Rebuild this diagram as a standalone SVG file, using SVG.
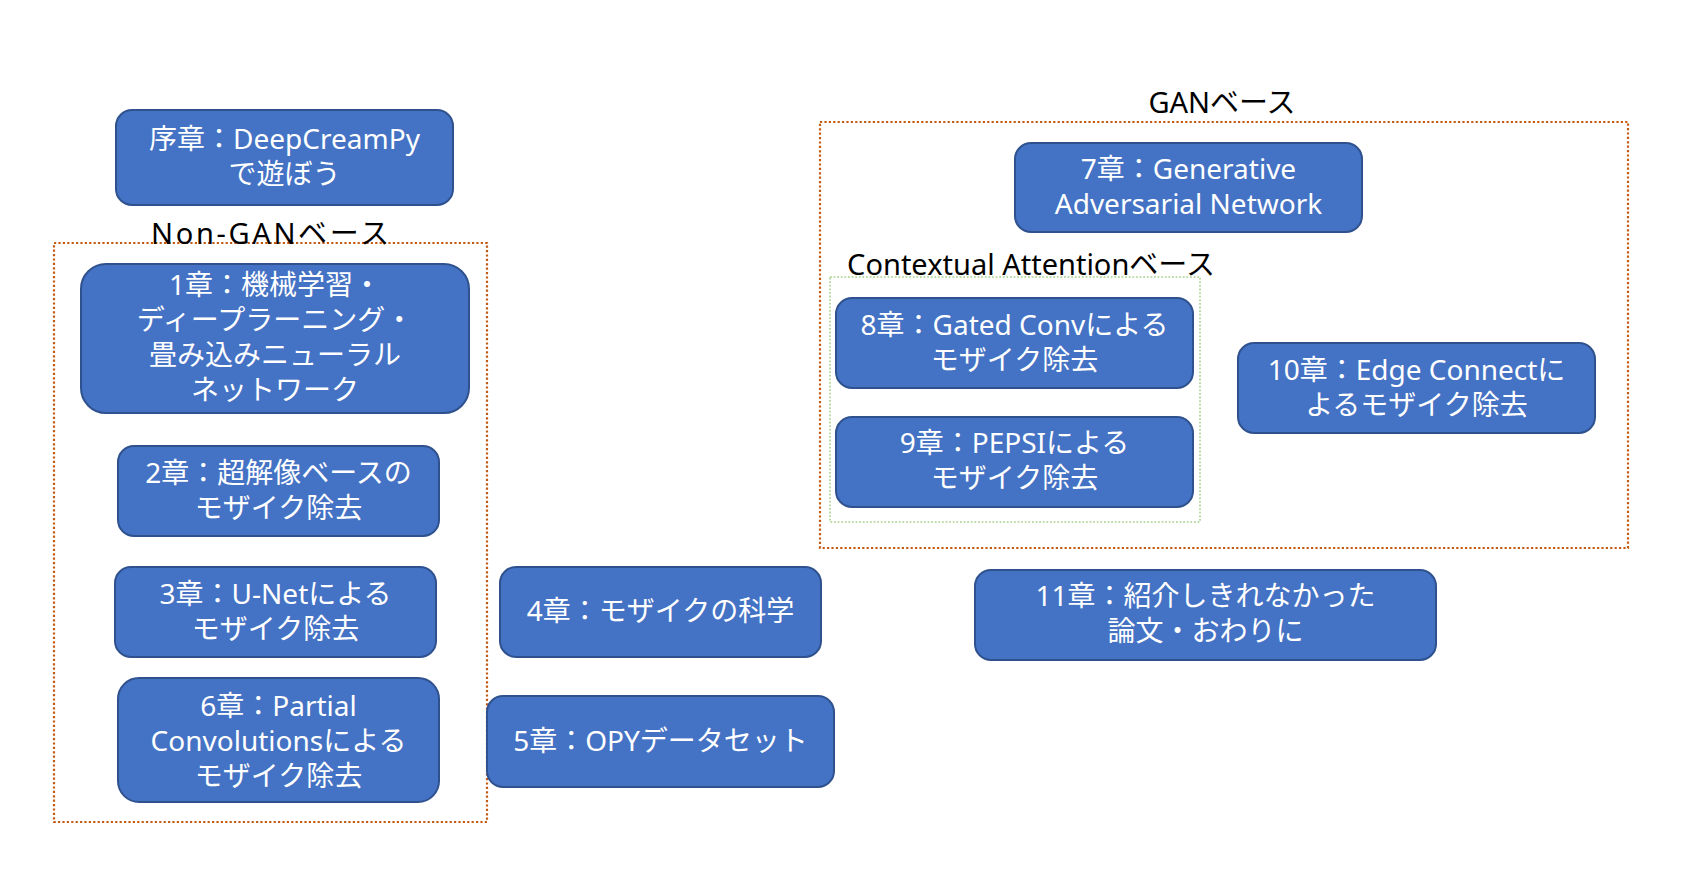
<svg xmlns="http://www.w3.org/2000/svg" width="1694" height="872" viewBox="0 0 1694 872">
<style>
.bg{fill:#ffffff}
.node{fill:#4472C4;stroke:#2F528F;stroke-width:2}
.nt{fill:#ffffff;font-family:"Noto Sans","Noto Sans CJK JP",sans-serif;font-size:28px;text-anchor:middle}
.lbl{fill:#000000;font-family:"Noto Sans","Noto Sans CJK JP",sans-serif;font-size:29px;text-anchor:middle}
.grpO{fill:none;stroke:#C55A11;stroke-width:2.2;stroke-dasharray:2.2 2.2}
.grpG{fill:none;stroke:#A9D18E;stroke-width:1.6;stroke-dasharray:1.8 1.8}
</style>
<rect class="bg" x="0" y="0" width="1694" height="872"/>
<g id="groups">
  <g id="group-nongan">
    <rect class="grpO" x="54" y="243" width="433" height="579"/>
    <text class="lbl" x="270" y="244" textLength="238" lengthAdjust="spacing">Non-GANベース</text>
  </g>
  <g id="group-gan">
    <rect class="grpO" x="820" y="122" width="808" height="426"/>
    <text class="lbl" x="1222" y="113">GANベース</text>
  </g>
  <g id="group-ca">
    <rect class="grpG" x="830" y="277" width="370" height="245"/>
    <text class="lbl" x="1031" y="275">Contextual Attentionベース</text>
  </g>
</g>
<g id="connectors"></g>
<g id="n0">
  <rect class="node" x="116" y="110" width="337" height="95" rx="16"/>
  <text class="nt" x="284.5" y="149">序章：DeepCreamPy</text>
  <text class="nt" x="284.5" y="184">で遊ぼう</text>
</g>
<g id="n1">
  <rect class="node" x="81" y="264" width="388" height="149" rx="25"/>
  <text class="nt" x="275" y="295">1章：機械学習・</text>
  <text class="nt" x="275" y="330">ディープラーニング・</text>
  <text class="nt" x="275" y="365">畳み込みニューラル</text>
  <text class="nt" x="275" y="400">ネットワーク</text>
</g>
<g id="n2">
  <rect class="node" x="118" y="446" width="321" height="90" rx="16"/>
  <text class="nt" x="278.5" y="483">2章：超解像ベースの</text>
  <text class="nt" x="278.5" y="518">モザイク除去</text>
</g>
<g id="n3">
  <rect class="node" x="115" y="567" width="321" height="90" rx="16"/>
  <text class="nt" x="275.5" y="604">3章：U-Netによる</text>
  <text class="nt" x="275.5" y="639">モザイク除去</text>
</g>
<g id="n4">
  <rect class="node" x="500" y="567" width="321" height="90" rx="16"/>
  <text class="nt" x="660.5" y="621">4章：モザイクの科学</text>
</g>
<g id="n5">
  <rect class="node" x="487" y="696" width="347" height="91" rx="16"/>
  <text class="nt" x="660.5" y="751">5章：OPYデータセット</text>
</g>
<g id="n6">
  <rect class="node" x="118" y="678" width="321" height="124" rx="21"/>
  <text class="nt" x="278.5" y="716">6章：Partial</text>
  <text class="nt" x="278.5" y="751">Convolutionsによる</text>
  <text class="nt" x="278.5" y="786">モザイク除去</text>
</g>
<g id="n7">
  <rect class="node" x="1015" y="143" width="347" height="89" rx="16"/>
  <text class="nt" x="1188.5" y="179">7章：Generative</text>
  <text class="nt" x="1188.5" y="214">Adversarial Network</text>
</g>
<g id="n8">
  <rect class="node" x="836" y="298" width="357" height="90" rx="16"/>
  <text class="nt" x="1014.5" y="335">8章：Gated Convによる</text>
  <text class="nt" x="1014.5" y="370">モザイク除去</text>
</g>
<g id="n9">
  <rect class="node" x="836" y="417" width="357" height="90" rx="16"/>
  <text class="nt" x="1014.5" y="453">9章：PEPSIによる</text>
  <text class="nt" x="1014.5" y="488">モザイク除去</text>
</g>
<g id="n10">
  <rect class="node" x="1238" y="343" width="357" height="90" rx="16"/>
  <text class="nt" x="1416.5" y="380">10章：Edge Connectに</text>
  <text class="nt" x="1416.5" y="415">よるモザイク除去</text>
</g>
<g id="n11">
  <rect class="node" x="975" y="570" width="461" height="90" rx="16"/>
  <text class="nt" x="1205.5" y="606">11章：紹介しきれなかった</text>
  <text class="nt" x="1205.5" y="641">論文・おわりに</text>
</g>
</svg>
